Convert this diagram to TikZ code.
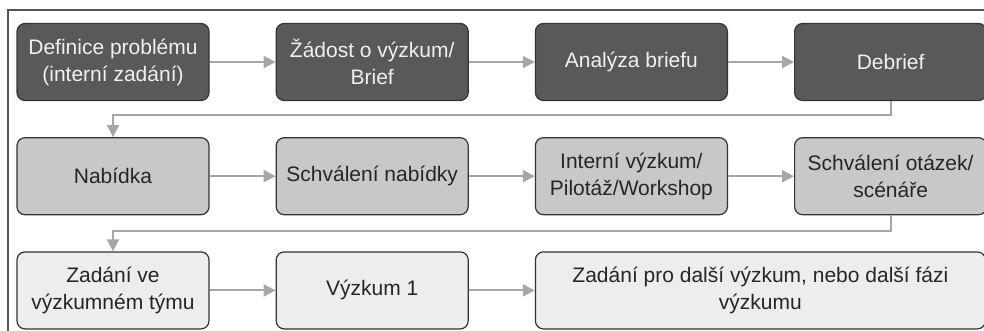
\documentclass[tikz,border=0pt]{standalone}
\usepackage{fontspec}
\setmainfont{Liberation Sans}
\usepackage{tikz}
\usetikzlibrary{positioning,arrows.meta,calc}
\definecolor{darkfill}{HTML}{595959}
\definecolor{midfill}{HTML}{C8C8C8}
\definecolor{lightfill}{HTML}{EDEDED}
\definecolor{boxline}{HTML}{333333}
\definecolor{arrowgray}{HTML}{A6A6A6}
\definecolor{framegray}{HTML}{555555}
\tikzstyle{stepbase} = [rectangle, rounded corners=8pt, minimum width=192pt, minimum height=77pt, inner sep=2pt, align=center, draw=boxline, line width=1.2pt, font=\fontsize{21}{27}\selectfont]
\tikzstyle{darkbox}  = [stepbase, fill=darkfill, text=white!94!black]
\tikzstyle{midbox}   = [stepbase, fill=midfill, text=black!85]
\tikzstyle{lightbox} = [stepbase, fill=lightfill, text=black!85]
\tikzstyle{arrow}    = [draw=arrowgray, line width=2pt, -{Triangle[length=12pt,width=12pt]}]

\begin{document}
\begin{tikzpicture}[x=1pt, y=1pt]
        \useasboundingbox (0,0) rectangle (984,-331);
        \draw[framegray, line width=1.5pt] (8,-340) -- (8,-10) -- (990,-10);

        \node (def) [darkbox] at (113,-62) {Definice problému\\(interní zadání)};
        \node (zad) [darkbox, right=66pt of def] {Žádost o výzkum/\\Brief};
        \node (ana) [darkbox, right=66pt of zad] {Analýza briefu};
        \node (deb) [darkbox, right=66pt of ana] {Debrief};
        \node (nab) [midbox, below=36pt of def] {Nabídka};
        \node (schn) [midbox, right=66pt of nab] {Schválení nabídky};
        \node (int) [midbox, right=66pt of schn] {Interní výzkum/\\Pilotáž/Workshop};
        \node (scho) [midbox, right=66pt of int] {Schválení otázek/\\scénáře};
        \node (zvt) [lightbox, below=36pt of nab] {Zadání ve\\výzkumném týmu};
        \node (vyz1) [lightbox, right=66pt of zvt] {Výzkum 1};
        \node (dalsi) [lightbox, right=66pt of vyz1, minimum width=450pt] {Zadání pro další výzkum, nebo další fázi\\výzkumu};

        \draw [arrow] (def) -- (zad);
        \draw [arrow] (zad) -- (ana);
        \draw [arrow] (ana) -- (deb);
        \draw [arrow] (deb.south) -- ++(0,-14) -| (nab.north);
        \draw [arrow] (nab) -- (schn);
        \draw [arrow] (schn) -- (int);
        \draw [arrow] (int) -- (scho);
        \draw [arrow] (scho.south) -- ++(0,-16) -| (zvt.north);
        \draw [arrow] (zvt) -- (vyz1);
        \draw [arrow] (vyz1) -- (dalsi);
\end{tikzpicture}
\end{document}
